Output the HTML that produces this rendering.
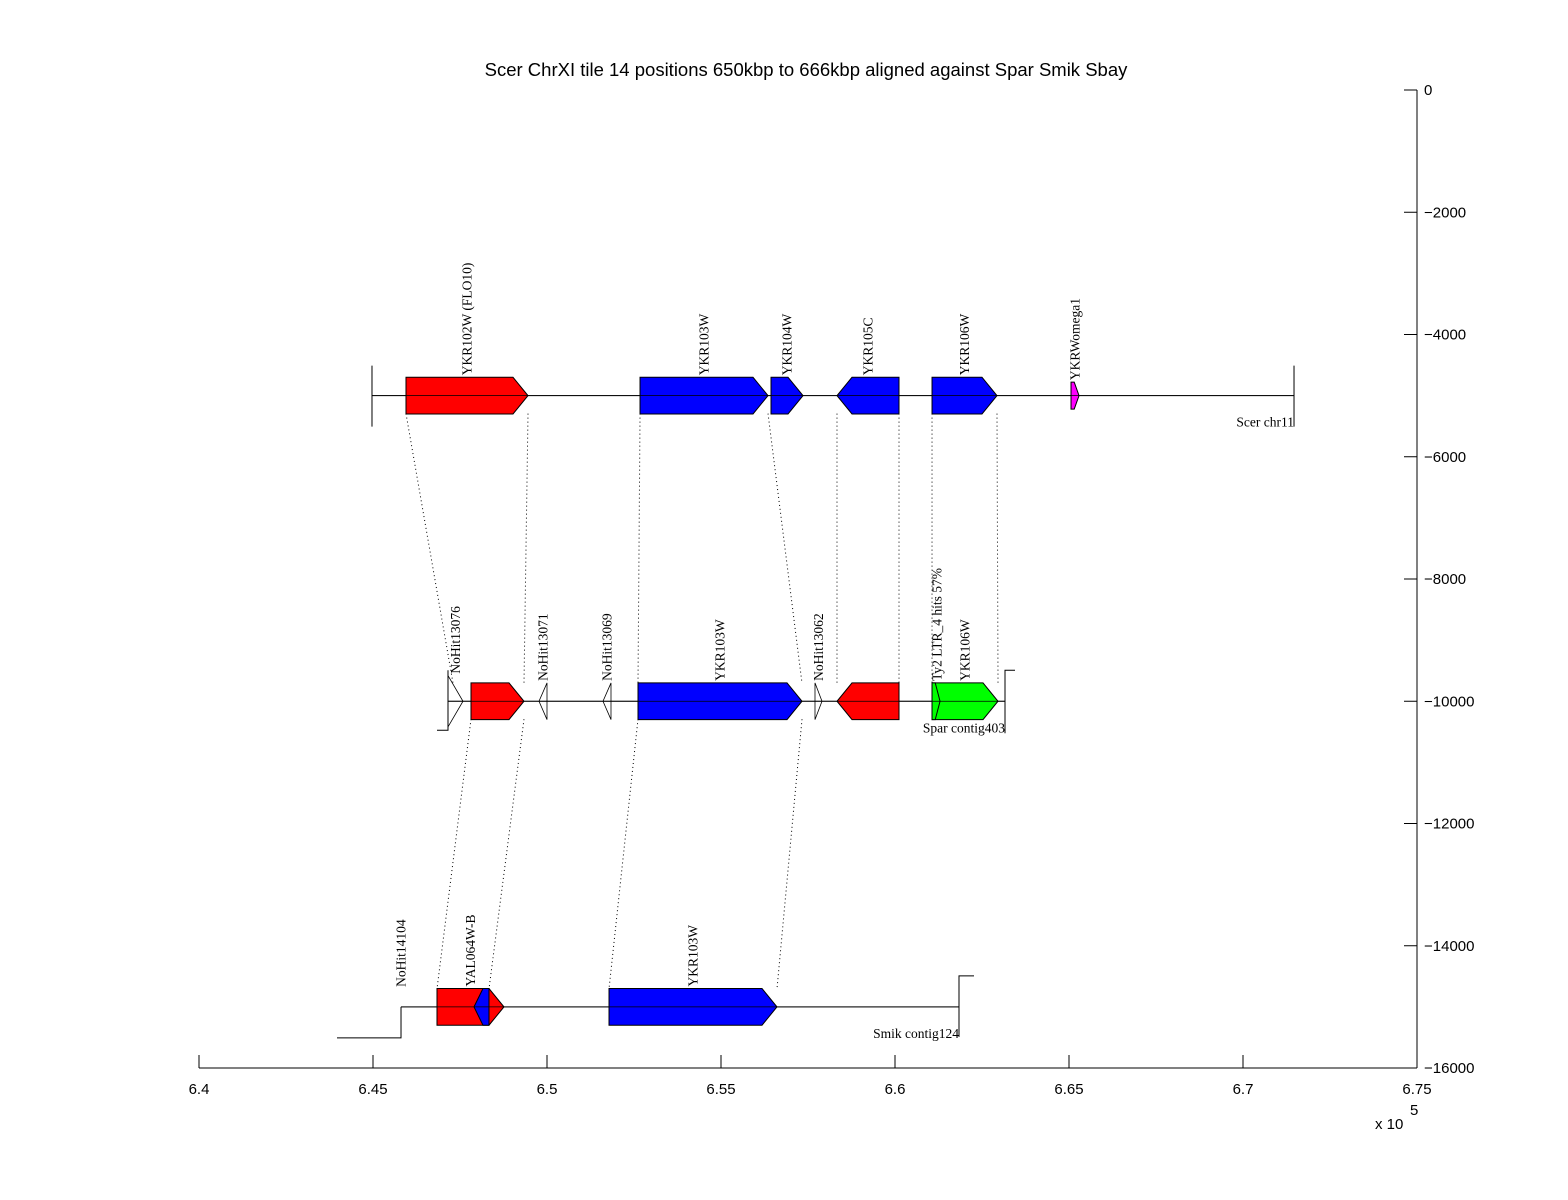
<!DOCTYPE html>
<html><head><meta charset="utf-8"><style>
html,body{margin:0;padding:0;background:#fff}
svg{display:block}
.lbl{font-family:"Liberation Serif",serif;font-size:13.5px;fill:#000}
.ax{font-family:"Liberation Sans",sans-serif;font-size:15px;fill:#000}
</style></head><body>
<svg id="chart" width="1568" height="1200" viewBox="0 0 1568 1200" xmlns="http://www.w3.org/2000/svg">
<rect width="1568" height="1200" fill="#fff"/>
<text x="806" y="76" text-anchor="middle" class="ax" style="font-size:18.5px">Scer ChrXI tile 14 positions 650kbp to 666kbp aligned against Spar Smik Sbay</text>
<g id="g"></g>
</svg>
<script>
const xTicks=[640000,645000,650000,655000,660000,665000,670000,675000];
const xTickLabels=["6.4","6.45","6.5","6.55","6.6","6.65","6.7","6.75"];
const yTicks=[0,-2000,-4000,-6000,-8000,-10000,-12000,-14000,-16000];
const yTickLabels=["0","\u22122000","\u22124000","\u22126000","\u22128000","\u221210000","\u221212000","\u221214000","\u221216000"];
const rowY=[-5000,-10000,-15000];
const rowLineStart=[644971,647155,645805];
const rowLineEnd=[671466,663161,661839];
const rowNames=["Scer chr11","Spar contig403","Smik contig124"];
const geneRow=[0,0,0,0,0,0, 1,1,1,1,1,1,1,1,1, 2,2,2];
const geneStart=[645948,652673,656437,658333,661064,665058, 647155,647816,649770,651609,652615,657701,658333,661064,661064, 646839,647902,651782];
const geneEnd=[649454,656351,657357,660115,662931,665288, 647586,649339,650000,651839,657328,657902,660115,662960,661294, 648764,648333,656609];
const geneStrand=[1,1,1,-1,1,1, 1,1,-1,-1,1,1,-1,1,1, 1,-1,1];
const geneColor=["#ff0000","#0000ff","#0000ff","#0000ff","#0000ff","#ff00ff","#ffffff","#ff0000","#ffffff","#ffffff","#0000ff","#ffffff","#ff0000","#00ff00","#00ff00","#ff0000","#0000ff","#0000ff"];
const geneHalf=[300,300,300,300,300,220, 420,300,300,300,300,300,300,300,300, 300,300,300];
const geneLabel=["YKR102W (FLO10)","YKR103W","YKR104W","YKR105C","YKR106W","YKRWomega1","NoHit13076","","NoHit13071","NoHit13069","YKR103W","NoHit13062","","YKR106W","Ty2 LTR_4 hits 57%","YAL064W-B","","YKR103W"];
const linkFrom=[645948,649454,652673,656351,658333,660115,661064,662931, 647816,649339,652615,657328];
const linkTo=[647300,649339,652615,657328,658333,660115,661064,662960, 646839,648333,651782,656609];
const linkRow=[0,0,0,0,0,0,0,0,1,1,1,1];
const extraLabelRow=[2];const extraLabelPos=[645805];const extraLabelText=["NoHit14104"];

const X=v=>199+(v-640000)*1218/35000;
const Y=v=>90-v*978/16000;
const g=document.getElementById('g');
const NS="http://www.w3.org/2000/svg";
function mk(t,a){const e=document.createElementNS(NS,t);for(const k in a)e.setAttribute(k,a[k]);g.appendChild(e);return e;}

let e=mk('line',{x1:199,y1:1068,x2:1417,y2:1068,stroke:'#000'});


e=mk('line',{x1:1417,y1:90,x2:1417,y2:1068,stroke:'#000'});


xTicks.forEach((t,i)=>{
 let l=mk('line',{x1:X(t),y1:1068,x2:X(t),y2:1055,stroke:'#000'});
 
 
 let tx=mk('text',{x:X(t),y:1094,'text-anchor':'middle',class:'ax'});tx.textContent=xTickLabels[i];
 
 
});
yTicks.forEach((t,i)=>{
 let l=mk('line',{x1:1404,y1:Y(t),x2:1417,y2:Y(t),stroke:'#000'});
 
 
 let tx=mk('text',{x:1424,y:Y(t)+5,class:'ax'});tx.textContent=yTickLabels[i];
 
 
});
e=mk('text',{x:1375,y:1129,class:'ax'});e.textContent='x 10';


e=mk('text',{x:1410,y:1115,class:'ax','font-size':'11'});e.textContent='5';



linkFrom.forEach((f,i)=>{
 const r=linkRow[i];
 let l=mk('line',{x1:X(f),y1:Y(rowY[r])+18,x2:X(linkTo[i]),y2:Y(rowY[r+1])-18,stroke:'#000','stroke-dasharray':'1,3','stroke-width':1});
 
 
});

rowY.forEach((ry,r)=>{
 const y=Y(ry),x1=X(rowLineStart[r]),x2=X(rowLineEnd[r]);
 let l=mk('line',{x1:x1,y1:y,x2:x2,y2:y,stroke:'#000'});
 
 
 let d;
 if(r===0) d=`M${x1},${y-30}V${y+31}M${x2},${y-30}V${y+31}`;
 else if(r===1) d=`M${x1},${y-31}V${y+29}H${x1-11}M${x2},${y+32}V${y-31}H${x2+10}`;
 else d=`M${x1},${y}V${y+31}H${x1-64}M${x2},${y+30}V${y-31}H${x2+15}`;
 let p=mk('path',{d:d,stroke:'#000',fill:'none'});
 
 
 let t=mk('text',{x:x2,y:y+31,'text-anchor':'end',class:'lbl'});t.textContent=rowNames[r];
 
 
});

geneStart.forEach((s,i)=>{
 const y=Y(rowY[geneRow[i]]);const a=X(s),b=X(geneEnd[i]);const h=geneHalf[i]*978/16000;
 const white=geneColor[i]==='#ffffff';
 const head=white?(b-a):Math.min(15,(b-a)*0.6);
 let pts;
 if(geneStrand[i]>0) pts=[[a,y-h],[b-head,y-h],[b,y],[b-head,y+h],[a,y+h]];
 else pts=[[b,y-h],[a+head,y-h],[a,y],[a+head,y+h],[b,y+h]];
 let p=mk('polygon',{points:pts.map(q=>q.join(',')).join(' '),fill:white?'none':geneColor[i],stroke:'#000','stroke-width':white?0.8:1});
 
 
 if(geneLabel[i]){
  const cx=(i===14)?a+5:(a+b)/2;const ty=y-h-2;
  let t=mk('text',{x:0,y:0,transform:`translate(${cx},${ty}) rotate(-90)`,'dominant-baseline':'central',class:'lbl'});
  t.textContent=geneLabel[i];
  
  
 }
});
extraLabelPos.forEach((p,i)=>{
 const y=Y(rowY[extraLabelRow[i]]);
 let t=mk('text',{x:0,y:0,transform:`translate(${X(p)},${y-20}) rotate(-90)`,'dominant-baseline':'central',class:'lbl'});
 t.textContent=extraLabelText[i];
 
 
});
rowY.forEach((ry,r)=>{
 let l=mk('line',{x1:X(rowLineStart[r]),y1:Y(ry),x2:X(rowLineEnd[r]),y2:Y(ry),stroke:'#000','stroke-width':0.8});
 
 
});
</script>
</body></html>
